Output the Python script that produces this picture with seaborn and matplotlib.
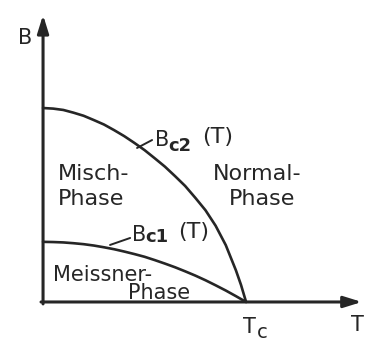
import matplotlib
matplotlib.use("Agg")
import matplotlib.pyplot as plt
import seaborn as sns
import pandas as pd

# Phase diagram of a type-II superconductor (reduced units, Tc = 1, Bc2(0) = 1)
temperature = [0.00, 0.05, 0.10, 0.15, 0.20, 0.25, 0.30, 0.35, 0.40, 0.45, 0.50,
               0.55, 0.60, 0.65, 0.70, 0.75, 0.80, 0.85, 0.90, 0.95, 0.975, 1.00]
b_c2 = [1.000, 0.997, 0.990, 0.976, 0.960, 0.938, 0.915, 0.886, 0.855, 0.820, 0.783,
        0.741, 0.698, 0.649, 0.598, 0.537, 0.473, 0.393, 0.293, 0.163, 0.088, 0.000]
b_c1 = [0.310, 0.309, 0.307, 0.303, 0.298, 0.291, 0.282, 0.272, 0.260, 0.247, 0.233,
        0.216, 0.198, 0.179, 0.158, 0.136, 0.112, 0.086, 0.059, 0.030, 0.015, 0.000]

ink = "#262626"

sns.set_theme(style="white")
plt.rcParams["font.family"] = ["DejaVu Sans"]

df = pd.DataFrame({"T": temperature, "Bc2": b_c2, "Bc1": b_c1})

fig = plt.figure(figsize=(3.74, 3.46), dpi=100)
ax = fig.add_axes([0, 0, 1, 1])
ax.set_xlim(-0.212, 1.630)
ax.set_ylim(-0.227, 1.557)
ax.axis("off")

sns.lineplot(data=df, x="T", y="Bc2", ax=ax, color=ink, lw=1.9,
             sort=False, estimator=None)
sns.lineplot(data=df, x="T", y="Bc1", ax=ax, color=ink, lw=1.9,
             sort=False, estimator=None)

# coordinate axes with arrow heads
arrow = dict(arrowstyle="-|>,head_length=0.9,head_width=0.28", lw=2.2,
             color=ink, shrinkA=0, shrinkB=0, mutation_scale=12)
ax.annotate("", xy=(0, 1.48), xytext=(0, -0.01), arrowprops=arrow)
ax.annotate("", xy=(1.57, 0), xytext=(-0.01, 0), arrowprops=arrow)

kw = dict(color=ink, ha="center", va="center")
ax.text(-0.089, 1.361, "B", fontsize=15, **kw)
ax.text(1.547, -0.119, "T", fontsize=15, **kw)
ax.text(1.015, -0.129, "T", fontsize=15, **kw)
ax.text(1.079, -0.155, "c", fontsize=14, **kw)

# curve labels with short leader strokes
ax.plot([0.463, 0.537], [0.794, 0.835], color=ink, lw=1.4)
ax.text(0.586, 0.835, "B", fontsize=15, **kw)
ax.text(0.673, 0.804, "c2", fontsize=13, fontweight="bold", **kw)
ax.text(0.860, 0.851, "(T)", fontsize=16, **kw)
ax.plot([0.330, 0.429], [0.294, 0.330], color=ink, lw=1.4)
ax.text(0.473, 0.345, "B", fontsize=15, **kw)
ax.text(0.558, 0.335, "c1", fontsize=13, fontweight="bold", **kw)
ax.text(0.740, 0.361, "(T)", fontsize=16, **kw)

# phase regions
left = dict(color=ink, ha="left", va="center")
ax.text(0.074, 0.66, "Misch-", fontsize=16, **left)
ax.text(0.074, 0.531, "Phase", fontsize=16, **left)
ax.text(1.054, 0.66, "Normal-", fontsize=16, **kw)
ax.text(1.079, 0.531, "Phase", fontsize=16, **kw)
ax.text(0.049, 0.139, "Meissner-", fontsize=15, **left)
ax.text(0.419, 0.046, "Phase", fontsize=15, **left)

fig.savefig("out.png", dpi=100)
